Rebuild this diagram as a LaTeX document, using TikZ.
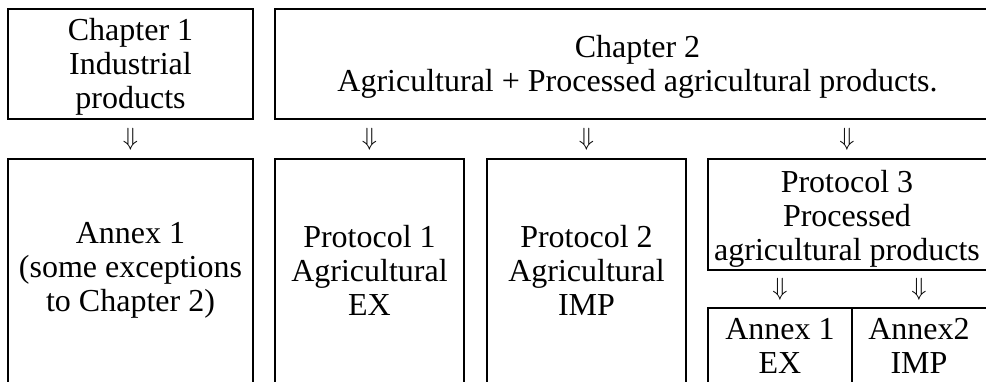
\documentclass[tikz,border=0pt]{standalone}
\usepackage{fontspec}
\setmainfont{Liberation Serif}
\begin{document}
\begin{tikzpicture}[x=1pt,y=-1pt,
  frame/.style={draw, line width=2.2pt, inner sep=0pt},
  txt/.style={align=center, inner sep=0pt, font=\fontsize{32}{34}\selectfont},
  darr/.style={inner sep=0pt, font=\fontsize{26}{26}\selectfont}]
\useasboundingbox (0,0) rectangle (986,381);
\clip (0,0) rectangle (986,381);
% top row
\node[frame, minimum width=245pt, minimum height=110pt] (ch1) at (130.5,64) {};
\node[txt] (ch1t) at (130.5,67) {Chapter 1\\Industrial\\products};
\node[frame, minimum width=725pt, minimum height=110pt] (ch2) at (637.5,64) {};
\node[txt] (ch2t) at (637.5,67) {Chapter 2\\Agricultural + Processed agricultural products.};
% arrows row 1
\node[darr] (a1) at (130.5,139) {$\Downarrow$};
\node[darr] (a2) at (369.5,139) {$\Downarrow$};
\node[darr] (a3) at (586.5,139) {$\Downarrow$};
\node[darr] (a4) at (847,139) {$\Downarrow$};
% bottom row boxes (open at bottom, cut by page)
\node[frame, minimum width=245pt, minimum height=250pt] (an1) at (130.5,284) {};
\node[txt] (an1t) at (130.5,270) {Annex 1\\(some exceptions\\to Chapter 2)};
\node[frame, minimum width=189pt, minimum height=250pt] (p1) at (369.5,284) {};
\node[txt] (p1t) at (369.5,270) {Protocol 1\\Agricultural\\EX};
\node[frame, minimum width=199pt, minimum height=250pt] (p2) at (586.5,284) {};
\node[txt] (p2t) at (586.5,270) {Protocol 2\\Agricultural\\IMP};
\node[frame, minimum width=290pt, minimum height=111pt] (p3) at (853,214.5) {};
\node[txt] (p3t) at (847,219) {Protocol 3\\Processed\\agricultural products};
% arrows row 2
\node[darr] (b1) at (780,289) {$\Downarrow$};
\node[darr] (b2) at (919,289) {$\Downarrow$};
% annex boxes
\node[frame, minimum width=144pt, minimum height=100pt] (ex) at (780,358) {};
\node[txt] (ext) at (780,346) {Annex 1\\EX};
\node[frame, minimum width=150pt, minimum height=100pt] (imp) at (927,358) {};
\node[txt] (impt) at (919,346) {Annex2\\IMP};
\end{tikzpicture}
\end{document}
